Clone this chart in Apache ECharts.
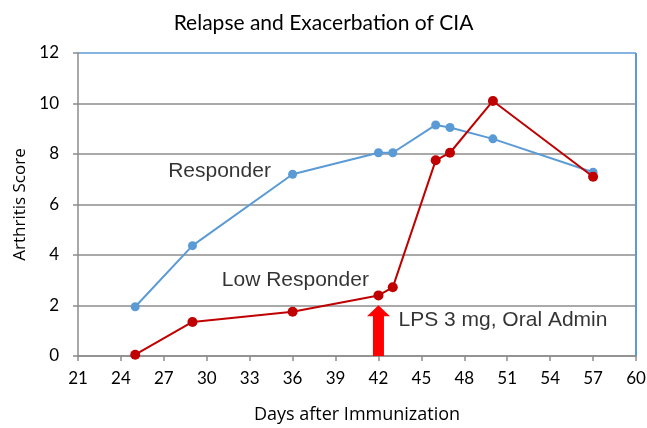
<!DOCTYPE html>
<html><head><meta charset="utf-8">
<script src="https://cdn.jsdelivr.net/npm/echarts@6/dist/echarts.min.js"></script>
<style>html,body{margin:0;padding:0;background:#fff}#c{width:647px;height:428px}</style>
</head><body><div id="c"></div>
<script>
const days = [25, 29, 36, 42, 43, 46, 47, 50, 57];
const responder = [1.95, 4.37, 7.2, 8.05, 8.05, 9.15, 9.05, 8.6, 7.28];
const lowResponder = [0.05, 1.35, 1.75, 2.4, 2.72, 7.75, 8.05, 10.1, 7.1];
const xTicks = [21, 24, 27, 30, 33, 36, 39, 42, 45, 48, 51, 54, 57, 60];
const yTicks = [0, 2, 4, 6, 8, 10, 12];
const arrow = [[42, 0, 2.01]];
const notes = [
  {text: 'Responder', x: 27.3, y: 7.3},
  {text: 'Low Responder', x: 31.05, y: 3.02},
  {text: 'LPS 3 mg, Oral Admin', x: 43.4, y: 1.43}
];

const FONT = 'Lato';
const chart = echarts.init(document.getElementById('c'));
const grayLine = '#8c8c8c';
const blue = '#5b9bd5';
chart.setOption({
  animation: false,
  title: {text: 'Relapse and Exacerbation of CIA', left: 'center', top: 8,
    textStyle: {fontFamily: FONT, fontWeight: 'normal', fontSize: 21, color: '#000'}},
  grid: {left: 78, right: 11, top: 53, bottom: 72, containLabel: false, outerBoundsMode: 'none'},
  xAxis: {
    type: 'value', min: xTicks[0], max: xTicks[xTicks.length - 1], interval: 3,
    name: 'Days after Immunization', nameLocation: 'middle', nameGap: 50,
    nameTextStyle: {fontFamily: 'Open Sans', fontSize: 18, color: '#000'},
    axisLine: {lineStyle: {color: grayLine, width: 1.5}},
    axisTick: {show: true, length: 5, lineStyle: {color: grayLine, width: 1.5}},
    axisLabel: {fontFamily: FONT, fontSize: 17, color: '#000', margin: 14},
    splitLine: {show: true, lineStyle: {width: 2, color: xTicks.map((t, i) => i === xTicks.length - 1 ? blue : 'rgba(0,0,0,0)')}}
  },
  yAxis: {
    type: 'value', min: yTicks[0], max: yTicks[yTicks.length - 1], interval: 2,
    name: 'Arthritis Score', nameLocation: 'middle', nameGap: 49,
    nameTextStyle: {fontFamily: 'Open Sans', fontSize: 17, color: '#000'},
    axisLine: {show: true, lineStyle: {color: grayLine, width: 1.5}},
    axisTick: {show: true, length: 5, lineStyle: {color: grayLine, width: 1.5}},
    axisLabel: {fontFamily: FONT, fontSize: 17, color: '#000', margin: 19},
    splitLine: {show: true, lineStyle: {width: 1.5, color: yTicks.map((t, i) => i === yTicks.length - 1 ? blue : grayLine)}}
  },
  series: [
    {type: 'line', data: days.map((d, i) => [d, responder[i]]), symbol: 'circle', symbolSize: 9,
      itemStyle: {color: blue}, lineStyle: {color: blue, width: 2}, z: 3},
    {type: 'line', data: days.map((d, i) => [d, lowResponder[i]]), symbol: 'circle', symbolSize: 10,
      itemStyle: {color: '#c00000'}, lineStyle: {color: '#c00000', width: 2}, z: 4},
    {type: 'custom', data: arrow, z: 5,
      renderItem: function (params, api) {
        const b = api.coord([api.value(0), api.value(1)]);
        const t = api.coord([api.value(0), api.value(2)]);
        const sw = 11, hw = 23, hh = 11, x = b[0];
        return {type: 'polygon', shape: {points: [
          [x - sw / 2, b[1]], [x - sw / 2, t[1] + hh], [x - hw / 2, t[1] + hh], [x, t[1]],
          [x + hw / 2, t[1] + hh], [x + sw / 2, t[1] + hh], [x + sw / 2, b[1]]]},
          style: {fill: '#ff0000'}};
      }},
    {type: 'scatter', data: notes.map(n => ({value: [n.x, n.y], name: n.text})), symbolSize: 0, z: 6,
      label: {show: true, position: 'right', distance: 0, formatter: p => p.name,
        fontFamily: 'Liberation Sans', fontSize: 21, color: '#000'}}
  ]
});
</script></body></html>
